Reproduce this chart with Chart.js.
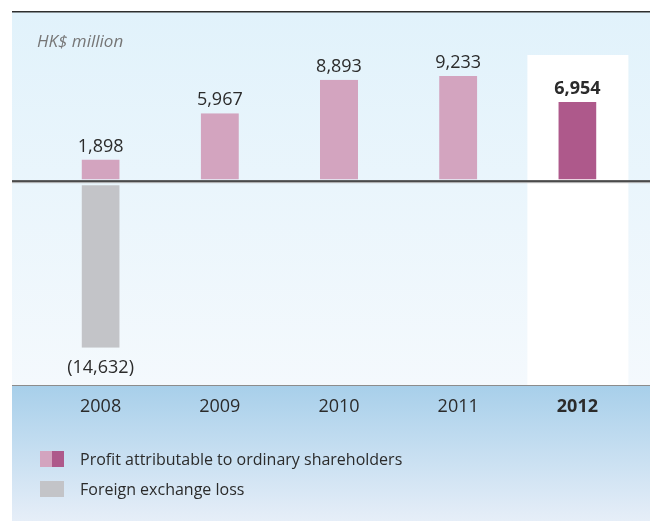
<!DOCTYPE html>
<html>
<head>
<meta charset="utf-8">
<script src="https://cdn.jsdelivr.net/npm/chart.js@4/dist/chart.umd.min.js"></script>
<style>
  html, body { margin: 0; padding: 0; background: #fff; }
  #wrap { position: relative; width: 650px; height: 523px; }
  canvas { display: block; }
  .legend { position: absolute; left: 40px; font-family: "Open Sans", sans-serif; font-size: 16px; color: #2b2b2b; }
  .legend .row { display: flex; align-items: center; height: 30px; }
  .legend .sw { width: 24px; height: 16px; margin-right: 16px; display: flex; }
  .legend .sw span { flex: 1; }
</style>
</head>
<body>
<div id="wrap">
  <canvas id="chart" width="650" height="523"></canvas>
  <div class="legend" style="top:444px;">
    <div class="row"><div class="sw"><span style="background:#d3a4bf"></span><span style="background:#ae598b"></span></div>Profit attributable to ordinary shareholders</div>
    <div class="row"><div class="sw"><span style="background:#c3c4c8"></span></div>Foreign exchange loss</div>
  </div>
</div>
<script>
const years = ['2008', '2009', '2010', '2011', '2012'];
const profit = [1898, 5967, 8893, 9233, 6954];
const fxLoss = [-14632, null, null, null, null];
const profitLabels = ['1,898', '5,967', '8,893', '9,233', '6,954'];
const lossLabels = ['(14,632)', '', '', '', ''];
const unitLabel = 'HK$ million';

const FONT = '"Open Sans", sans-serif';
const lightPink = '#d3a4bf';
const darkPink = '#ae598b';

// background panel, highlight column, zero line, value labels
const panelPlugin = {
    id: 'panel',
    beforeDraw(chart) {
        const { ctx, chartArea: a, scales: { x } } = chart;
        ctx.save();
        let g = ctx.createLinearGradient(0, a.top, 0, a.bottom);
        g.addColorStop(0, '#e1f2fb');
        g.addColorStop(1, '#f4f9fd');
        ctx.fillStyle = g;
        ctx.fillRect(12, a.top, 638, a.bottom - a.top);
        g = ctx.createLinearGradient(0, a.bottom, 0, 521);
        g.addColorStop(0, '#a7cfea');
        g.addColorStop(1, '#e6eef8');
        ctx.fillStyle = g;
        ctx.fillRect(12, a.bottom, 638, 521 - a.bottom);
        const cx = x.getPixelForValue(4);
        ctx.fillStyle = '#ffffff';
        ctx.fillRect(cx - 50, 55, 101, a.bottom - 55);
        ctx.fillStyle = '#2e2e2e';
        ctx.fillRect(12, a.top - 1, 638, 1.5);
        ctx.fillStyle = '#8c8c8c';
        ctx.fillRect(12, a.bottom, 638, 1);
        ctx.font = 'italic 17px ' + FONT;
        ctx.fillStyle = '#767676';
        ctx.textBaseline = 'middle';
        ctx.fillText(unitLabel, 37, 42);
        ctx.restore();
    },
    afterDatasetsDraw(chart) {
        const { ctx, scales: { x, y } } = chart;
        ctx.save();
        const y0 = y.getPixelForValue(0);
        ctx.fillStyle = '#4a4a4a';
        ctx.fillRect(12, y0 - 1, 638, 2);
        ctx.fillStyle = '#a8a8a8';
        ctx.fillRect(12, y0 + 1, 638, 1);
        ctx.fillStyle = '#2b2b2b';
        ctx.textAlign = 'center';
        profit.forEach((v, i) => {
            const bold = i === years.length - 1;
            ctx.font = (bold ? 'bold ' : '') + '18px ' + FONT;
            ctx.textBaseline = 'bottom';
            ctx.fillText(profitLabels[i], x.getPixelForValue(i), y.getPixelForValue(v) - 4);
        });
        fxLoss.forEach((v, i) => {
            if (v == null) return;
            ctx.font = '18px ' + FONT;
            ctx.textBaseline = 'top';
            ctx.fillText(lossLabels[i], x.getPixelForValue(i), y.getPixelForValue(v) + 11);
        });
        ctx.restore();
    }
};

new Chart(document.getElementById('chart'), {
    type: 'bar',
    data: {
        labels: years,
        datasets: [
            {
                data: profit,
                backgroundColor: profit.map((v, i) => i === years.length - 1 ? darkPink : lightPink),
                borderColor: 'rgba(0,0,0,0)',
                borderWidth: { bottom: 2 },
                borderSkipped: false,
                barPercentage: 0.32,
                categoryPercentage: 1
            },
            {
                data: fxLoss,
                backgroundColor: '#c3c4c8',
                borderColor: 'rgba(0,0,0,0)',
                borderWidth: { top: 4 },
                borderSkipped: false,
                barPercentage: 0.32,
                categoryPercentage: 1
            }
        ]
    },
    options: {
        responsive: false,
        animation: false,
        layout: { padding: { top: 12, left: 41, right: 13, bottom: 0 } },
        plugins: { legend: { display: false }, tooltip: { enabled: false } },
        scales: {
            x: {
                stacked: true,
                grid: { display: false },
                border: { display: false },
                afterFit(scale) { scale.height = 138; },
                ticks: {
                    padding: 3,
                    color: '#2b2b2b',
                    font: (c) => ({ family: FONT, size: 18, weight: c.index === years.length - 1 ? 'bold' : 'normal' })
                }
            },
            y: {
                stacked: true,
                display: false,
                min: -17900,
                max: 14850
            }
        }
    },
    plugins: [panelPlugin]
});
</script>
</body>
</html>
